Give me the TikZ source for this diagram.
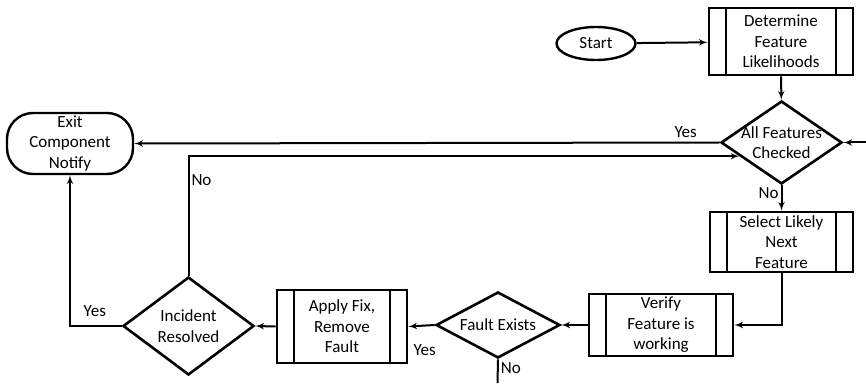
\documentclass[tikz,border=0pt]{standalone}
\usepackage{fontspec}
\setmainfont{Carlito}
\usetikzlibrary{shapes,arrows,calc}
\tikzstyle{line} = [draw, line width=2pt, -latex']
\tikzstyle{block} = [draw, line width=2.6pt, rectangle, align=center, inner sep=0pt,
    path picture={\draw[line width=2.6pt]
        ([xshift=17pt]path picture bounding box.north west) -- ([xshift=17pt]path picture bounding box.south west)
        ([xshift=-17pt]path picture bounding box.north east) -- ([xshift=-17pt]path picture bounding box.south east);}]
\tikzstyle{decision} = [draw, line width=2.6pt, diamond, inner sep=0pt]
\tikzstyle{cloud} = [draw, line width=2.4pt, ellipse, inner sep=0pt, minimum width=79pt, minimum height=33pt]
\tikzstyle{term} = [draw, line width=2.4pt, rectangle, rounded corners=26pt, align=center, inner sep=0pt]
\tikzstyle{lab} = [inner sep=2pt]

\begin{document}
\begin{tikzpicture}[x=1pt, y=1pt, every node/.style={font=\fontsize{17pt}{20.5pt}\selectfont}]
        \useasboundingbox (0,0) rectangle (866,383);
        \node[cloud] (start) at (596,339.5) {Start};
        \node[block, minimum width=144pt, minimum height=67pt] (det) at (781,341.5) {Determine\\Feature\\Likelihoods};
        \node[decision, minimum width=121pt, minimum height=83pt, label={[align=center]center:All Features\\Checked}] (all) at (781.5,240.5) {};
        \node[term, minimum width=126pt, minimum height=61pt] (exit) at (70,239.5) {Exit\\Component\\Notify};
        \node[block, minimum width=143pt, minimum height=60pt] (sel) at (781.5,141) {Select Likely\\Next\\Feature};
        \node[block, minimum width=144pt, minimum height=62pt] (ver) at (661,58) {Verify\\Feature is\\working};
        \node[decision, minimum width=124pt, minimum height=66pt, label={center:Fault Exists}] (flt) at (498,58) {};
        \node[block, minimum width=130pt, minimum height=73pt] (app) at (342,56.5) {Apply Fix,\\Remove\\Fault};
        \node[decision, minimum width=131pt, minimum height=98pt, label={[align=center]center:Incident\\Resolved}] (inc) at (188.5,57) {};
        \coordinate (rin) at (866,240.5);
        \coordinate (fout) at (497.5,0);
        \path[line] (start) -- (det);
        \path[line] (det) -- (all);
        \path[line] (rin) -- (all.east);
        \path[line] (all.west) -- node[lab, above=2pt, pos=0.058] {Yes} (exit.east);
        \path[line] (all) -- node[lab, left, pos=0.3] {No} (sel);
        \path[line] (sel.south) |- (ver.east);
        \path[line] (ver.west) -- (flt.east);
        \path[line] (flt.west) -- node[lab, below=16pt, pos=0.38] {Yes} (app.east);
        \draw[line width=2pt] (flt.south) -- node[lab, right, pos=0.36] {No} (fout);
        \path[line] (app.west) -- (inc.east);
        \path[line] (inc.west) -| node[lab, above=6pt, pos=0.26] {Yes} (exit.south);
        \path[line] (inc.north) |- node[lab, right, pos=0.4] {No} (all.198);
    \end{tikzpicture}
\end{document}
